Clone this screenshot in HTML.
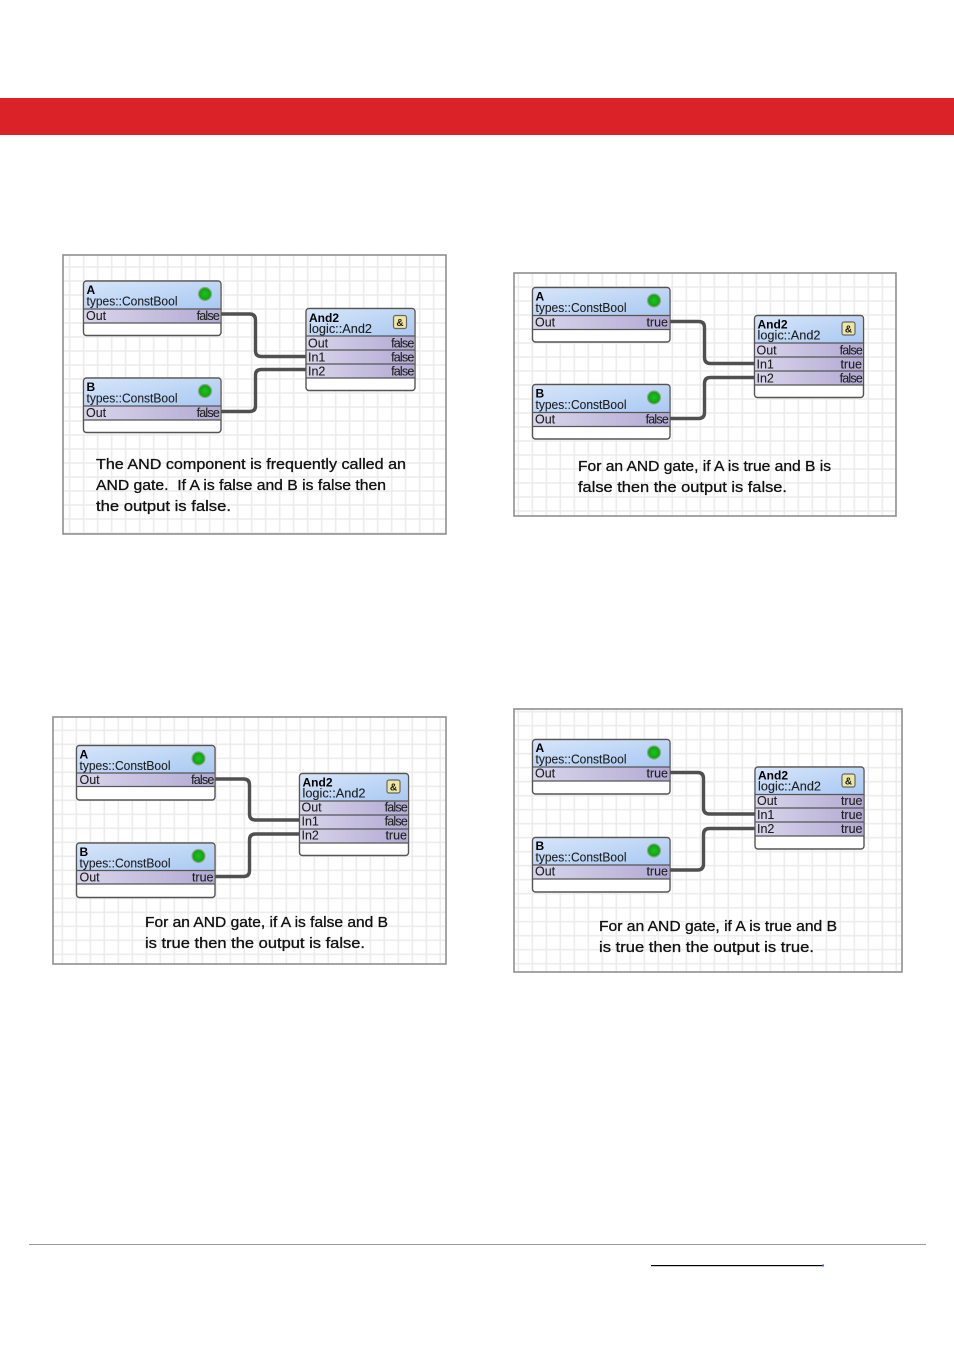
<!DOCTYPE html>
<html><head><meta charset="utf-8"><style>
html,body{margin:0;padding:0;background:#fff}
svg{display:block}
text{font-family:"Liberation Sans",sans-serif;fill:#1c1c1c}
.t{font-size:12px;font-weight:bold;fill:#000}
.s{font-size:12.5px;stroke:#333;stroke-width:.12}
.r{font-size:12.5px;stroke:#333;stroke-width:.12}
.v{font-size:12.5px;text-anchor:end;stroke:#333;stroke-width:.12}
.n{letter-spacing:-.8px}
.c{font-size:15px;fill:#111;stroke:#111;stroke-width:.3}
.w{fill:none;stroke:#505050;stroke-width:3.4}
.b{fill:#fff;stroke:#555;stroke-width:1.4}
.h{fill:url(#hd)}
.o{fill:url(#rw)}
.l{stroke:#555;stroke-width:1.3}
.f{stroke:#8f8f8f;stroke-width:1.6}
.i{fill:#efe6a0;stroke:#666;stroke-width:1.2}
.a{font-size:10px;font-weight:bold;text-anchor:middle}
.d{fill:url(#led);stroke:#8fa58f;stroke-width:1.2}
</style></head><body>
<svg width="954" height="1350" viewBox="0 0 954 1350" xmlns="http://www.w3.org/2000/svg">
<defs>
<linearGradient id="hd" x1="0" y1="0" x2="1" y2="1"><stop offset="0" stop-color="#d6e5f9"/><stop offset="1" stop-color="#a9c9f2"/></linearGradient>
<linearGradient id="rw" x1="0" y1="0" x2="1" y2="0"><stop offset="0" stop-color="#d9d5eb"/><stop offset="1" stop-color="#b2aad3"/></linearGradient>
<radialGradient id="led"><stop offset="0" stop-color="#1cc41c"/><stop offset="1" stop-color="#0f9f0f"/></radialGradient>
<pattern id="g1" width="14" height="14" patternUnits="userSpaceOnUse" x="62.7" y="246"><rect width="14" height="14" fill="#fff"/><path d="M0 7H14M7 0V14" stroke="#ebebeb" stroke-width="1.5" fill="none"/></pattern>
<pattern id="g2" width="14" height="14" patternUnits="userSpaceOnUse" x="525.3" y="280"><rect width="14" height="14" fill="#fff"/><path d="M0 7H14M7 0V14" stroke="#ebebeb" stroke-width="1.5" fill="none"/></pattern>
<pattern id="g3" width="14" height="14" patternUnits="userSpaceOnUse" x="55.3" y="723.3"><rect width="14" height="14" fill="#fff"/><path d="M0 7H14M7 0V14" stroke="#ebebeb" stroke-width="1.5" fill="none"/></pattern>
<pattern id="g4" width="14" height="14" patternUnits="userSpaceOnUse" x="525.3" y="718.7"><rect width="14" height="14" fill="#fff"/><path d="M0 7H14M7 0V14" stroke="#ebebeb" stroke-width="1.5" fill="none"/></pattern>
</defs>
<rect width="954" height="1350" fill="#fff"/>
<rect x="0" y="98" width="954" height="37" fill="#dc2229"/>

<!-- Panel 1 -->
<rect x="63" y="255" width="383" height="279" fill="url(#g1)" class="f"/>
<g transform="translate(83.5,281)">
<path class="w" d="M137 33H166Q172 33 172 39V70Q172 75.5 178 75.5H222"/>
<path class="w" d="M137 130.5H166Q172 130.5 172 125V94Q172 88.5 178 88.5H222"/>
<g><rect class="b" width="137.5" height="54.5" rx="3"/><path class="h" d="M1 28V3Q1 1 3 1H134.5Q136.5 1 136.5 3V28Z"/><rect class="o" x="1" y="28" width="135.5" height="14"/><path class="l" d="M0 28H137.5M0 42H137.5"/><circle class="d" cx="121.5" cy="13" r="6.5"/><text class="t" x="3" y="13">A</text><text class="s" x="3" y="24.5" textLength="91" lengthAdjust="spacingAndGlyphs">types::ConstBool</text><text class="r" x="2.5" y="39">Out</text><text class="v n" x="135.5" y="39">false</text></g>
<g transform="translate(0,97)"><rect class="b" width="137.5" height="54.5" rx="3"/><path class="h" d="M1 28V3Q1 1 3 1H134.5Q136.5 1 136.5 3V28Z"/><rect class="o" x="1" y="28" width="135.5" height="14"/><path class="l" d="M0 28H137.5M0 42H137.5"/><circle class="d" cx="121.5" cy="13" r="6.5"/><text class="t" x="3" y="13">B</text><text class="s" x="3" y="24.5" textLength="91" lengthAdjust="spacingAndGlyphs">types::ConstBool</text><text class="r" x="2.5" y="39">Out</text><text class="v n" x="135.5" y="39">false</text></g>
<g transform="translate(222.5,27.5)"><rect class="b" width="109" height="82" rx="3"/><path class="h" d="M1 27.5V3Q1 1 3 1H106Q108 1 108 3V27.5Z"/><rect class="o" x="1" y="27.5" width="107" height="42"/><path class="l" d="M0 27.5H109M0 41.5H109M0 55.5H109M0 69.5H109"/><rect class="i" x="87.5" y="7" width="13" height="13" rx="2"/><text class="a" x="94" y="17.5">&amp;</text><text class="t" x="3" y="13.5">And2</text><text class="s" x="3" y="24.5" textLength="63" lengthAdjust="spacingAndGlyphs">logic::And2</text><text class="r" x="2" y="38.8">Out</text><text class="v n" x="107.5" y="38.8">false</text><text class="r" x="2" y="52.8">In1</text><text class="v n" x="107.5" y="52.8">false</text><text class="r" x="2" y="66.8">In2</text><text class="v n" x="107.5" y="66.8">false</text></g>
</g>
<text class="c" x="96" y="469" textLength="310" lengthAdjust="spacingAndGlyphs">The AND component is frequently called an</text>
<text class="c" x="96" y="490" textLength="290" lengthAdjust="spacingAndGlyphs" xml:space="preserve">AND gate.  If A is false and B is false then</text>
<text class="c" x="96" y="511" textLength="135" lengthAdjust="spacingAndGlyphs">the output is false.</text>

<!-- Panel 2 -->
<rect x="514" y="273" width="382" height="243" fill="url(#g2)" class="f"/>
<g transform="translate(532.5,287.5)">
<path class="w" d="M137 34H166Q172 34 172 40V70Q172 76 178 76H222"/>
<path class="w" d="M137 131H166Q172 131 172 125V96Q172 90 178 90H222"/>
<g><rect class="b" width="137.5" height="54.5" rx="3"/><path class="h" d="M1 28V3Q1 1 3 1H134.5Q136.5 1 136.5 3V28Z"/><rect class="o" x="1" y="28" width="135.5" height="14"/><path class="l" d="M0 28H137.5M0 42H137.5"/><circle class="d" cx="121.5" cy="13" r="6.5"/><text class="t" x="3" y="13">A</text><text class="s" x="3" y="24.5" textLength="91" lengthAdjust="spacingAndGlyphs">types::ConstBool</text><text class="r" x="2.5" y="39">Out</text><text class="v" x="135.5" y="39">true</text></g>
<g transform="translate(0,97)"><rect class="b" width="137.5" height="54.5" rx="3"/><path class="h" d="M1 28V3Q1 1 3 1H134.5Q136.5 1 136.5 3V28Z"/><rect class="o" x="1" y="28" width="135.5" height="14"/><path class="l" d="M0 28H137.5M0 42H137.5"/><circle class="d" cx="121.5" cy="13" r="6.5"/><text class="t" x="3" y="13">B</text><text class="s" x="3" y="24.5" textLength="91" lengthAdjust="spacingAndGlyphs">types::ConstBool</text><text class="r" x="2.5" y="39">Out</text><text class="v n" x="135.5" y="39">false</text></g>
<g transform="translate(222,28)"><rect class="b" width="109" height="82" rx="3"/><path class="h" d="M1 27.5V3Q1 1 3 1H106Q108 1 108 3V27.5Z"/><rect class="o" x="1" y="27.5" width="107" height="42"/><path class="l" d="M0 27.5H109M0 41.5H109M0 55.5H109M0 69.5H109"/><rect class="i" x="87.5" y="6.5" width="13" height="13" rx="2"/><text class="a" x="94" y="17">&amp;</text><text class="t" x="3" y="13">And2</text><text class="s" x="3" y="24" textLength="63" lengthAdjust="spacingAndGlyphs">logic::And2</text><text class="r" x="2" y="38.8">Out</text><text class="v n" x="107.5" y="38.8">false</text><text class="r" x="2" y="52.8">In1</text><text class="v" x="107.5" y="52.8">true</text><text class="r" x="2" y="66.8">In2</text><text class="v n" x="107.5" y="66.8">false</text></g>
</g>
<text class="c" x="578" y="471" textLength="253" lengthAdjust="spacingAndGlyphs">For an AND gate, if A is true and B is</text>
<text class="c" x="578" y="492" textLength="209" lengthAdjust="spacingAndGlyphs">false then the output is false.</text>

<!-- Panel 3 -->
<rect x="53" y="717" width="393" height="247" fill="url(#g3)" class="f"/>
<g transform="translate(76.5,745.5)">
<path class="w" d="M138 33.5H167Q173 33.5 173 39.5V68.5Q173 74.5 179 74.5H223"/>
<path class="w" d="M138 131H167Q173 131 173 125V94.5Q173 88.5 179 88.5H223"/>
<g><rect class="b" width="138.5" height="54.5" rx="3"/><path class="h" d="M1 27.5V3Q1 1 3 1H135.5Q137.5 1 137.5 3V27.5Z"/><rect class="o" x="1" y="27.5" width="136.5" height="14"/><path class="l" d="M0 27.5H138.5M0 41H138.5"/><circle class="d" cx="122" cy="13" r="6.5"/><text class="t" x="3" y="13">A</text><text class="s" x="3" y="24.5" textLength="91" lengthAdjust="spacingAndGlyphs">types::ConstBool</text><text class="r" x="3" y="38.5">Out</text><text class="v n" x="137" y="38.5">false</text></g>
<g transform="translate(0,97.5)"><rect class="b" width="138.5" height="54.5" rx="3"/><path class="h" d="M1 27.5V3Q1 1 3 1H135.5Q137.5 1 137.5 3V27.5Z"/><rect class="o" x="1" y="27.5" width="136.5" height="14"/><path class="l" d="M0 27.5H138.5M0 41H138.5"/><circle class="d" cx="122" cy="13" r="6.5"/><text class="t" x="3" y="13">B</text><text class="s" x="3" y="24.5" textLength="91" lengthAdjust="spacingAndGlyphs">types::ConstBool</text><text class="r" x="3" y="38.5">Out</text><text class="v" x="137" y="38.5">true</text></g>
<g transform="translate(223,28)"><rect class="b" width="109" height="82" rx="3"/><path class="h" d="M1 27.5V3Q1 1 3 1H106Q108 1 108 3V27.5Z"/><rect class="o" x="1" y="27.5" width="107" height="42"/><path class="l" d="M0 27.5H109M0 41.5H109M0 55.5H109M0 69.5H109"/><rect class="i" x="87.5" y="6.5" width="13" height="13" rx="2"/><text class="a" x="94" y="17">&amp;</text><text class="t" x="3" y="13">And2</text><text class="s" x="3" y="24" textLength="63" lengthAdjust="spacingAndGlyphs">logic::And2</text><text class="r" x="2" y="38">Out</text><text class="v n" x="107.5" y="38">false</text><text class="r" x="2" y="52">In1</text><text class="v n" x="107.5" y="52">false</text><text class="r" x="2" y="66">In2</text><text class="v" x="107.5" y="66">true</text></g>
</g>
<text class="c" x="145" y="927" textLength="243" lengthAdjust="spacingAndGlyphs">For an AND gate, if A is false and B</text>
<text class="c" x="145" y="948" textLength="220" lengthAdjust="spacingAndGlyphs">is true then the output is false.</text>

<!-- Panel 4 -->
<rect x="514" y="709" width="388" height="263" fill="url(#g4)" class="f"/>
<g transform="translate(532.5,739.5)">
<path class="w" d="M137 33H165Q171 33 171 39V68.5Q171 74.5 177 74.5H222"/>
<path class="w" d="M137 130.5H165Q171 130.5 171 124.5V95Q171 89 177 89H222"/>
<g><rect class="b" width="137.5" height="54.5" rx="3"/><path class="h" d="M1 27.5V3Q1 1 3 1H134.5Q136.5 1 136.5 3V27.5Z"/><rect class="o" x="1" y="27.5" width="135.5" height="14"/><path class="l" d="M0 27.5H137.5M0 41.5H137.5"/><circle class="d" cx="121.5" cy="13" r="6.5"/><text class="t" x="3" y="12.5">A</text><text class="s" x="3" y="24" textLength="91" lengthAdjust="spacingAndGlyphs">types::ConstBool</text><text class="r" x="2.5" y="38">Out</text><text class="v" x="135.5" y="38">true</text></g>
<g transform="translate(0,98)"><rect class="b" width="137.5" height="54.5" rx="3"/><path class="h" d="M1 27.5V3Q1 1 3 1H134.5Q136.5 1 136.5 3V27.5Z"/><rect class="o" x="1" y="27.5" width="135.5" height="14"/><path class="l" d="M0 27.5H137.5M0 41.5H137.5"/><circle class="d" cx="121.5" cy="13" r="6.5"/><text class="t" x="3" y="12.5">B</text><text class="s" x="3" y="24" textLength="91" lengthAdjust="spacingAndGlyphs">types::ConstBool</text><text class="r" x="2.5" y="38">Out</text><text class="v" x="135.5" y="38">true</text></g>
<g transform="translate(222.5,27.5)"><rect class="b" width="109" height="82" rx="3"/><path class="h" d="M1 27.5V3Q1 1 3 1H106Q108 1 108 3V27.5Z"/><rect class="o" x="1" y="27.5" width="107" height="41.5"/><path class="l" d="M0 27.5H109M0 41H109M0 55H109M0 69H109"/><rect class="i" x="87" y="7" width="13" height="13" rx="2"/><text class="a" x="93.5" y="17.5">&amp;</text><text class="t" x="3" y="12.5">And2</text><text class="s" x="3" y="23.5" textLength="63" lengthAdjust="spacingAndGlyphs">logic::And2</text><text class="r" x="2" y="38.2">Out</text><text class="v" x="107.5" y="38.2">true</text><text class="r" x="2" y="52.2">In1</text><text class="v" x="107.5" y="52.2">true</text><text class="r" x="2" y="66.2">In2</text><text class="v" x="107.5" y="66.2">true</text></g>
</g>
<text class="c" x="599" y="931" textLength="238" lengthAdjust="spacingAndGlyphs">For an AND gate, if A is true and B</text>
<text class="c" x="599" y="952" textLength="215" lengthAdjust="spacingAndGlyphs">is true then the output is true.</text>

<!-- Footer -->
<rect x="29" y="1244" width="897" height="1" fill="#999"/>
<rect x="651" y="1265" width="171" height="1.2" fill="#000"/>
<rect x="822" y="1264.5" width="2" height="2" fill="#4a66b0"/>
</svg>
</body></html>
